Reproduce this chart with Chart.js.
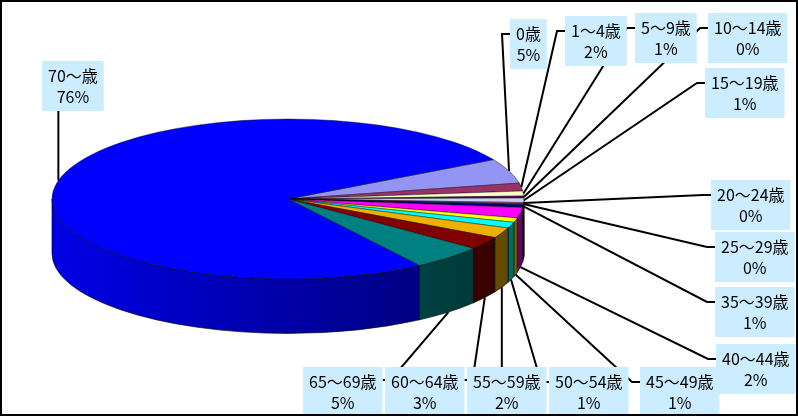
<!DOCTYPE html>
<html>
<head>
<meta charset="utf-8">
<script src="https://cdn.jsdelivr.net/npm/chart.js@4/dist/chart.umd.min.js"></script>
<style>
  html, body { margin: 0; padding: 0; background: #fff; }
  canvas { display: block; }
</style>
</head>
<body>
<canvas id="deathChart" width="798" height="416"></canvas>
<script>
// 年齢階級別の割合 (%)
const categories = ['0歳', '1～4歳', '5～9歳', '10～14歳', '15～19歳', '20～24歳', '25～29歳',
    '35～39歳', '40～44歳', '45～49歳', '50～54歳', '55～59歳', '60～64歳', '65～69歳', '70～歳'];
const shares = [5.0, 1.6, 1.0, 0.4, 0.9, 0.2, 0.2, 0.6, 2.1, 0.9, 1.2, 2.1, 2.6, 5.0, 76.2];
const sliceColors = ['#9494F4', '#993366', '#FFFFCC', '#660066', '#CCCCFF', '#FF8080', '#0066CC',
    '#000080', '#FF00FF', '#FFFF00', '#00FFFF', '#F0B000', '#800000', '#008080', '#0000FF'];

// ラベルの箱の左上 (レイアウト用)
const labelPos = [[510, 19], [565, 16], [635, 13], [708, 13], [705, 68], [711, 180], [715, 232],
    [715, 287], [716, 344], [640, 367], [549, 367], [467, 367], [385, 367], [303, 367], [42, 61]];

// 3D表示の比率 (半径に対する)
const stretchX = 1.475;
const squashY = 0.5;
const depthRatio = 0.34;

function shade(hex, f) {
    let n = parseInt(hex.slice(1), 16);
    let r = Math.round(((n >> 16) & 255) * f);
    let g = Math.round(((n >> 8) & 255) * f);
    let b = Math.round((n & 255) * f);
    return `rgb(${r},${g},${b})`;
}

const pie3d = {
    id: 'pie3d',
    beforeDatasetsDraw(chart) {
        let ctx = chart.ctx;
        let meta = chart.getDatasetMeta(0);
        let first = meta.data[0];
        let cx = first.x, cy = first.y;
        let rx = first.outerRadius * stretchX;
        let ry = first.outerRadius * squashY;
        let depth = first.outerRadius * depthRatio;

        ctx.save();
        // 側面 (手前半分だけ見える)
        meta.data.forEach((arc, i) => {
            let a1 = Math.max(arc.startAngle, 0);
            let a2 = Math.min(arc.endAngle, Math.PI);
            if (a2 <= a1) return;
            let color = arc.options.backgroundColor;
            let grad = ctx.createLinearGradient(cx - rx, 0, cx + rx, 0);
            grad.addColorStop(0, shade(color, 0.9));
            grad.addColorStop(1, shade(color, 0.4));
            ctx.beginPath();
            ctx.ellipse(cx, cy, rx, ry, 0, a1, a2);
            ctx.ellipse(cx, cy + depth, rx, ry, 0, a2, a1, true);
            ctx.closePath();
            ctx.fillStyle = grad;
            ctx.fill();
            ctx.strokeStyle = 'rgba(0,0,0,0.8)';
            ctx.lineWidth = 0.8;
            ctx.stroke();
        });

        // 上面
        meta.data.forEach((arc) => {
            ctx.beginPath();
            ctx.moveTo(cx, cy);
            ctx.ellipse(cx, cy, rx, ry, 0, arc.startAngle, arc.endAngle);
            ctx.closePath();
            ctx.fillStyle = arc.options.backgroundColor;
            ctx.fill();
            ctx.strokeStyle = 'rgba(0,0,0,0.6)';
            ctx.lineWidth = 0.7;
            ctx.stroke();
        });

        // 引き出し線とラベル
        let total = shares.reduce((a, b) => a + b, 0);
        ctx.font = '16px "Noto Sans CJK JP", sans-serif';
        let boxes = meta.data.map((arc, i) => {
            let line1 = categories[i];
            let line2 = Math.round(shares[i] / total * 100) + '%';
            let w = Math.max(ctx.measureText(line1).width, ctx.measureText(line2).width) + 12;
            return { x: labelPos[i][0], y: labelPos[i][1], w: w, h: 50, line1, line2 };
        });

        ctx.strokeStyle = '#000';
        ctx.lineWidth = 2;
        meta.data.forEach((arc, i) => {
            let m = (arc.startAngle + arc.endAngle) / 2;
            let px = cx + rx * Math.cos(m);
            let py = cy + ry * Math.sin(m);
            if (Math.sin(m) > 0.12) py += depth;
            let b = boxes[i];
            ctx.beginPath();
            ctx.moveTo(px, py);
            if (px < b.x) {
                ctx.lineTo(b.x - 8, b.y + 15);
                ctx.lineTo(b.x, b.y + 15);
            } else if (px > b.x + b.w) {
                ctx.lineTo(b.x + b.w + 8, b.y + 13);
                ctx.lineTo(b.x + b.w, b.y + 13);
            } else if (py > b.y + b.h) {
                ctx.lineTo(px, b.y + b.h);
            } else {
                ctx.lineTo(px, b.y);
            }
            ctx.stroke();
        });

        ctx.textAlign = 'center';
        ctx.textBaseline = 'middle';
        boxes.forEach((b) => {
            ctx.fillStyle = '#CCECFF';
            ctx.fillRect(b.x, b.y, b.w, b.h);
            ctx.fillStyle = '#000';
            ctx.fillText(b.line1, b.x + b.w / 2, b.y + 15);
            ctx.fillText(b.line2, b.x + b.w / 2, b.y + 36);
        });

        // 外枠
        ctx.strokeStyle = '#000';
        ctx.lineWidth = 2;
        ctx.strokeRect(1, 1, chart.width - 2, chart.height - 2);
        ctx.restore();
        return false;
    }
};

new Chart(document.getElementById('deathChart').getContext('2d'), {
    type: 'pie',
    data: {
        labels: categories,
        datasets: [{
            data: shares,
            backgroundColor: sliceColors,
            borderWidth: 0
        }]
    },
    options: {
        responsive: false,
        animation: false,
        rotation: 60.5,
        layout: { padding: { left: 128, right: 350, top: 39, bottom: 57 } },
        plugins: {
            legend: { display: false },
            tooltip: { enabled: false }
        }
    },
    plugins: [pie3d]
});
</script>
</body>
</html>
